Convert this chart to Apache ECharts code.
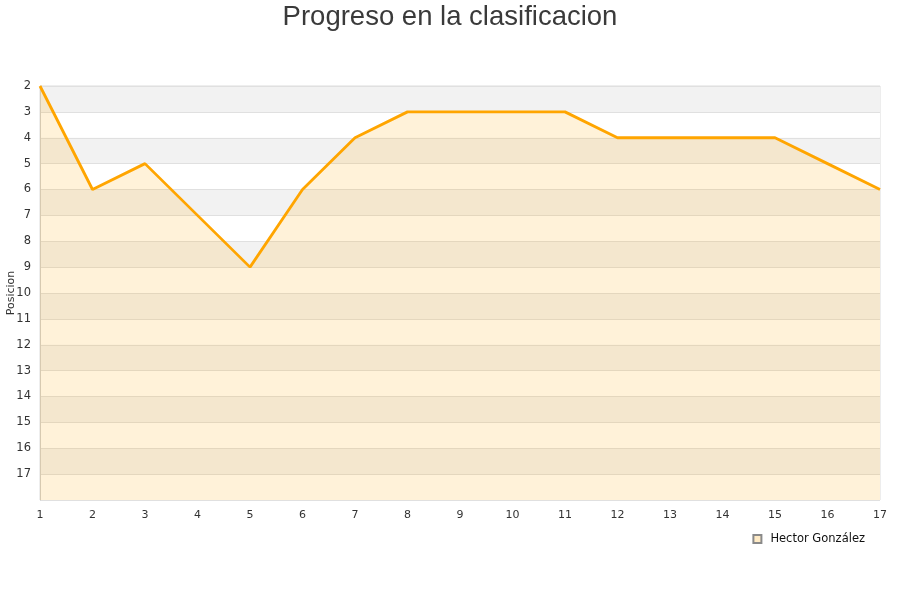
<!DOCTYPE html>
<html>
<head>
<meta charset="utf-8">
<script src="https://cdn.jsdelivr.net/npm/echarts@6/dist/echarts.min.js"></script>
<style>
  html, body { margin: 0; padding: 0; background: #fff; }
  #chart { width: 900px; height: 600px; }
</style>
</head>
<body>
<div id="chart"></div>
<script>
// Matchdays (jornadas) and league position after each one
const jornadas = ['1','2','3','4','5','6','7','8','9','10','11','12','13','14','15','16','17'];
const posiciones = [2, 6, 5, 7, 9, 6, 4, 3, 3, 3, 3, 4, 4, 4, 4, 5, 6];
const jugador = 'Hector González';
const tituloGrafico = 'Progreso en la clasificacion';

const chart = echarts.init(document.getElementById('chart'));
chart.setOption({
  animation: false,
  backgroundColor: '#fff',
  textStyle: { fontFamily: 'DejaVu Sans' },
  title: {
    text: tituloGrafico,
    left: 'center',
    top: -2,
    textStyle: { fontFamily: 'Liberation Sans', fontSize: 27.5, fontWeight: 'normal', color: '#3a3a3a' }
  },
  grid: {
    left: 40, right: 20, top: 86, bottom: 100,
    outerBoundsMode: 'none',
    containLabel: false,
    show: true, borderColor: '#dcdcdc', borderWidth: 1, backgroundColor: 'transparent'
  },
  legend: {
    data: [{ name: jugador, icon: 'rect' }],
    right: 31, top: 531,
    itemWidth: 8, itemHeight: 8,
    itemGap: 10,
    backgroundColor: '#fff',
    padding: [2, 4],
    textStyle: { fontSize: 11.5, color: '#111', padding: [0, 0, 0, 4] }
  },
  xAxis: {
    type: 'category',
    data: jornadas,
    boundaryGap: false,
    axisLine: { show: false },
    axisTick: { show: false },
    axisLabel: { color: '#333', fontSize: 11, margin: 10 },
    splitLine: { show: false }
  },
  yAxis: {
    type: 'value',
    inverse: true,
    min: 2, max: 18, interval: 1,
    name: 'Posicion',
    nameLocation: 'middle',
    nameGap: 23,
    nameMoveOverlap: false,
    nameTextStyle: { fontSize: 11, color: '#333' },
    axisLine: { show: true, lineStyle: { color: '#d0d0d0' } },
    axisTick: { show: false },
    axisLabel: {
      color: '#333', fontSize: 11.5, margin: 9,
      formatter: v => (v >= 18 ? '' : String(v))
    },
    splitLine: { show: true, lineStyle: { color: '#e0e0e0', width: 1 } },
    splitArea: { show: true, areaStyle: { color: ['#f2f2f2', '#ffffff'] } }
  },
  series: [{
    name: jugador,
    type: 'line',
    data: posiciones,
    symbol: 'none',
    lineStyle: { color: '#ffa500', width: 2.8 },
    itemStyle: { color: '#ffebc6', borderColor: '#8a8a8a', borderWidth: 1 },
    areaStyle: { color: 'rgba(255,165,0,0.21)', origin: 'end' }
  }]
});
</script>
</body>
</html>
